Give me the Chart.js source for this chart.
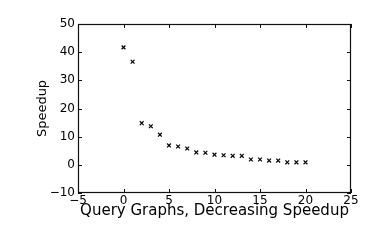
<!DOCTYPE html>
<html>
<head>
<meta charset="utf-8">
<script src="https://cdn.jsdelivr.net/npm/chart.js@4"></script>
<style>
  html, body { margin: 0; padding: 0; background: #fff; }
  #wrap { width: 390px; height: 242px; }
</style>
</head>
<body>
<div id="wrap"><canvas id="speedup"></canvas></div>
<script>
// Query graph index (x) and measured speedup (y)
const queryIndex = [0, 1, 2, 3, 4, 5, 6, 7, 8, 9, 10, 11, 12, 13, 14, 15, 16, 17, 18, 19, 20];
const speedup = [41.7, 36.6, 14.8, 13.7, 10.7, 6.9, 6.5, 5.8, 4.4, 4.3, 3.6, 3.4, 3.2, 3.2, 1.9, 1.9, 1.5, 1.5, 0.9, 0.9, 0.9];
const xTicks = [-5, 0, 5, 10, 15, 20, 25];
const yTicks = [-10, 0, 10, 20, 30, 40, 50];

const font = "'DejaVu Sans', sans-serif";

// matplotlib style: unicode minus in tick labels
function fmt(v) {
  return String(v).replace("-", "\u2212");
}

// Draws the frame and small inward ticks on all four sides
const frameTicks = {
  id: "frameTicks",
  afterDraw(chart) {
    const { ctx, chartArea: a, scales } = chart;
    const len = 4;
    ctx.save();
    ctx.strokeStyle = "#111";
    ctx.lineWidth = 1.2;
    ctx.strokeRect(a.left + 0.5, a.top + 0.5, a.right - a.left - 1, a.bottom - a.top - 1);
    ctx.lineWidth = 1;
    ctx.beginPath();
    xTicks.forEach((t) => {
      const px = Math.round(scales.x.getPixelForValue(t)) + 0.5;
      ctx.moveTo(px, a.bottom);
      ctx.lineTo(px, a.bottom - len);
      ctx.moveTo(px, a.top);
      ctx.lineTo(px, a.top + len);
    });
    yTicks.forEach((t) => {
      const py = Math.round(scales.y.getPixelForValue(t)) + 0.5;
      ctx.moveTo(a.left, py);
      ctx.lineTo(a.left + len, py);
      ctx.moveTo(a.right, py);
      ctx.lineTo(a.right - len, py);
    });
    ctx.stroke();
    ctx.restore();
  },
};

const ctx = document.getElementById("speedup").getContext("2d");
new Chart(ctx, {
  type: "scatter",
  data: {
    datasets: [
      {
        data: queryIndex.map((x, i) => ({ x: x, y: speedup[i] })),
        pointStyle: "crossRot",
        pointRadius: 2.7,
        pointBorderWidth: 1.2,
        borderColor: "#000",
        backgroundColor: "#000",
      },
    ],
  },
  options: {
    responsive: true,
    maintainAspectRatio: false,
    animation: false,
    layout: { padding: { left: 0, right: 39, top: 24, bottom: 0 } },
    plugins: { legend: { display: false }, tooltip: { enabled: false } },
    scales: {
      x: {
        type: "linear",
        min: -5,
        max: 25,
        afterBuildTicks: (s) => { s.ticks = xTicks.map((v) => ({ value: v })); },
        afterFit: (s) => { s.height = 49; },
        grid: { display: false, drawTicks: false },
        border: { display: false },
        ticks: {
          color: "#000",
          padding: 1,
          maxRotation: 0,
          font: { family: font, size: 12 },
          callback: (v) => fmt(v),
        },
        title: {
          display: true,
          text: "Query Graphs, Decreasing Speedup",
          color: "#000",
          padding: 22,
          font: { family: font, size: 15 },
        },
      },
      y: {
        type: "linear",
        min: -10,
        max: 50,
        afterBuildTicks: (s) => { s.ticks = yTicks.map((v) => ({ value: v })); },
        afterFit: (s) => { s.width = 78; },
        grid: { display: false, drawTicks: false },
        border: { display: false },
        ticks: {
          color: "#000",
          padding: 3,
          font: { family: font, size: 12 },
          callback: (v) => fmt(v),
        },
        title: {
          display: true,
          text: "Speedup",
          color: "#000",
          padding: 35,
          font: { family: font, size: 13 },
        },
      },
    },
  },
  plugins: [frameTicks],
});
</script>
</body>
</html>
